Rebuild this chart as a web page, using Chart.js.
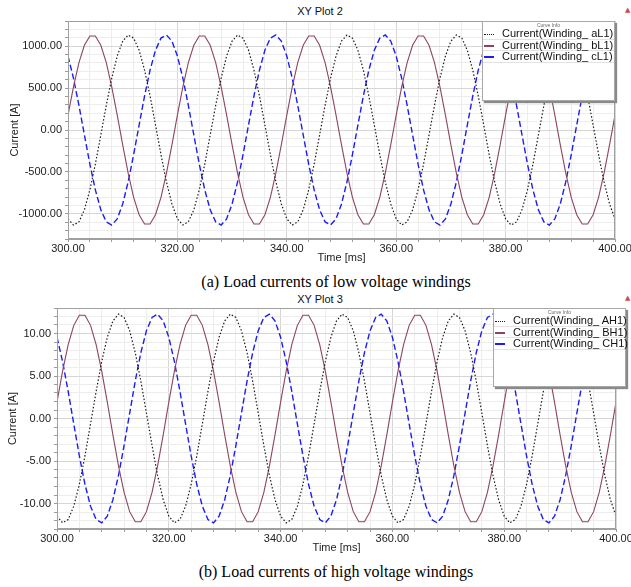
<!DOCTYPE html>
<html>
<head>
<meta charset="utf-8">
<script src="https://cdn.jsdelivr.net/npm/chart.js@4.4.1/dist/chart.umd.min.js"></script>
<style>
  html, body { margin: 0; padding: 0; background: #fff; }
  #page { position: relative; width: 631px; height: 587px; overflow: hidden; font-family: "Liberation Sans", Arial, sans-serif; }
  canvas { position: absolute; left: 0; }
  .title { position: absolute; font-size: 11px; line-height: 13px; color: #111; transform: translateX(-50%); white-space: nowrap; }
  .warn { position: absolute; font-family: "DejaVu Sans", sans-serif; font-size: 7px; line-height: 8px; color: #c0504d; }
  .caption { position: absolute; font-family: "Liberation Serif", "Times New Roman", serif; font-size: 16px; line-height: 20px; color: #000; transform: translateX(-50%); white-space: nowrap; }
  .legend { position: absolute; background: #fff; border: 1px solid #a8a8a8; box-shadow: 2px 2px 1px #8a8a8a; box-sizing: border-box; }
  .legend .head { font-size: 5px; line-height: 6px; height: 6px; text-align: center; color: #666; }
  .legend .row { height: 11.7px; line-height: 11px; font-size: 11px; border-bottom: 1px solid #e2e2e2; box-sizing: border-box; white-space: nowrap; color: #111; }
  .legend .swatch { display: inline-block; width: 10px; height: 0; margin: 0 8px 0 1px; vertical-align: middle; }
</style>
</head>
<body>
<div id="page">
  <div class="title" style="left:320px; top:5px">XY Plot 2</div>
  <div class="warn" style="left:625px; top:6px">▲</div>
  <canvas id="lv" width="631" height="267" style="top:0"></canvas>
  <div class="legend" id="lvLegend" style="left:482px; top:21px; width:133px; height:80px"></div>
  <div class="caption" style="left:336px; top:272px">(a) Load currents of low voltage windings</div>

  <div class="title" style="left:320px; top:293px">XY Plot 3</div>
  <div class="warn" style="left:625px; top:294px">▲</div>
  <canvas id="hv" width="631" height="270" style="top:287px"></canvas>
  <div class="legend" id="hvLegend" style="left:493px; top:308px; width:133px; height:79px"></div>
  <div class="caption" style="left:336px; top:562px">(b) Load currents of high voltage windings</div>
</div>
<script>
// sample times [ms]
const timeMs = [
  300, 301, 302, 303, 304, 305, 306, 307, 308, 309,
  310, 311, 312, 313, 314, 315, 316, 317, 318, 319,
  320, 321, 322, 323, 324, 325, 326, 327, 328, 329,
  330, 331, 332, 333, 334, 335, 336, 337, 338, 339,
  340, 341, 342, 343, 344, 345, 346, 347, 348, 349,
  350, 351, 352, 353, 354, 355, 356, 357, 358, 359,
  360, 361, 362, 363, 364, 365, 366, 367, 368, 369,
  370, 371, 372, 373, 374, 375, 376, 377, 378, 379,
  380, 381, 382, 383, 384, 385, 386, 387, 388, 389,
  390, 391, 392, 393, 394, 395, 396, 397, 398, 399,
  400
]

const lvNames = ["Current(Winding_ aL1)", "Current(Winding_ bL1)", "Current(Winding_ cL1)"]
const hvNames = ["Current(Winding_ AH1)", "Current(Winding_ BH1)", "Current(Winding_ CH1)"]

// low voltage windings [A]
const lvA = [
  -1060, -1133, -1096, -952, -714, -407, -59, 294, 618, 882, 1060, 1133, 1096, 952, 714, 407, 59, -294, -618, -882,
  -1060, -1133, -1096, -952, -714, -407, -59, 294, 618, 882, 1060, 1133, 1096, 952, 714, 407, 59, -294, -618, -882,
  -1060, -1133, -1096, -952, -714, -407, -59, 294, 618, 882, 1060, 1133, 1096, 952, 714, 407, 59, -294, -618, -882,
  -1060, -1133, -1096, -952, -714, -407, -59, 294, 618, 882, 1060, 1133, 1096, 952, 714, 407, 59, -294, -618, -882,
  -1060, -1133, -1096, -952, -714, -407, -59, 294, 618, 882, 1060, 1133, 1096, 952, 714, 407, 59, -294, -618, -882,
  -1060
]
const lvB = [
  178, 515, 803, 1011, 1121, 1121, 1011, 803, 515, 178, -178, -515, -803, -1011, -1121, -1121, -1011, -803, -515, -178,
  178, 515, 803, 1011, 1121, 1121, 1011, 803, 515, 178, -178, -515, -803, -1011, -1121, -1121, -1011, -803, -515, -178,
  178, 515, 803, 1011, 1121, 1121, 1011, 803, 515, 178, -178, -515, -803, -1011, -1121, -1121, -1011, -803, -515, -178,
  178, 515, 803, 1011, 1121, 1121, 1011, 803, 515, 178, -178, -515, -803, -1011, -1121, -1121, -1011, -803, -515, -178,
  178, 515, 803, 1011, 1121, 1121, 1011, 803, 515, 178, -178, -515, -803, -1011, -1121, -1121, -1011, -803, -515, -178,
  178
]
const lvC = [
  882, 618, 294, -59, -407, -714, -952, -1096, -1133, -1060, -882, -618, -294, 59, 407, 714, 952, 1096, 1133, 1060,
  882, 618, 294, -59, -407, -714, -952, -1096, -1133, -1060, -882, -618, -294, 59, 407, 714, 952, 1096, 1133, 1060,
  882, 618, 294, -59, -407, -714, -952, -1096, -1133, -1060, -882, -618, -294, 59, 407, 714, 952, 1096, 1133, 1060,
  882, 618, 294, -59, -407, -714, -952, -1096, -1133, -1060, -882, -618, -294, 59, 407, 714, 952, 1096, 1133, 1060,
  882, 618, 294, -59, -407, -714, -952, -1096, -1133, -1060, -882, -618, -294, 59, 407, 714, 952, 1096, 1133, 1060,
  882
]

// high voltage windings [A]
const hvA = [
  -11.48, -12.28, -11.88, -10.32, -7.74, -4.41, -0.64, 3.18, 6.70, 9.56, 11.48, 12.28, 11.88, 10.32, 7.74, 4.41, 0.64, -3.18, -6.70, -9.56,
  -11.48, -12.28, -11.88, -10.32, -7.74, -4.41, -0.64, 3.18, 6.70, 9.56, 11.48, 12.28, 11.88, 10.32, 7.74, 4.41, 0.64, -3.18, -6.70, -9.56,
  -11.48, -12.28, -11.88, -10.32, -7.74, -4.41, -0.64, 3.18, 6.70, 9.56, 11.48, 12.28, 11.88, 10.32, 7.74, 4.41, 0.64, -3.18, -6.70, -9.56,
  -11.48, -12.28, -11.88, -10.32, -7.74, -4.41, -0.64, 3.18, 6.70, 9.56, 11.48, 12.28, 11.88, 10.32, 7.74, 4.41, 0.64, -3.18, -6.70, -9.56,
  -11.48, -12.28, -11.88, -10.32, -7.74, -4.41, -0.64, 3.18, 6.70, 9.56, 11.48, 12.28, 11.88, 10.32, 7.74, 4.41, 0.64, -3.18, -6.70, -9.56,
  -11.48
]
const hvB = [
  1.92, 5.58, 8.70, 10.96, 12.15, 12.15, 10.96, 8.70, 5.58, 1.92, -1.92, -5.58, -8.70, -10.96, -12.15, -12.15, -10.96, -8.70, -5.58, -1.92,
  1.92, 5.58, 8.70, 10.96, 12.15, 12.15, 10.96, 8.70, 5.58, 1.92, -1.92, -5.58, -8.70, -10.96, -12.15, -12.15, -10.96, -8.70, -5.58, -1.92,
  1.92, 5.58, 8.70, 10.96, 12.15, 12.15, 10.96, 8.70, 5.58, 1.92, -1.92, -5.58, -8.70, -10.96, -12.15, -12.15, -10.96, -8.70, -5.58, -1.92,
  1.92, 5.58, 8.70, 10.96, 12.15, 12.15, 10.96, 8.70, 5.58, 1.92, -1.92, -5.58, -8.70, -10.96, -12.15, -12.15, -10.96, -8.70, -5.58, -1.92,
  1.92, 5.58, 8.70, 10.96, 12.15, 12.15, 10.96, 8.70, 5.58, 1.92, -1.92, -5.58, -8.70, -10.96, -12.15, -12.15, -10.96, -8.70, -5.58, -1.92,
  1.92
]
const hvC = [
  9.56, 6.70, 3.18, -0.64, -4.41, -7.74, -10.32, -11.88, -12.28, -11.48, -9.56, -6.70, -3.18, 0.64, 4.41, 7.74, 10.32, 11.88, 12.28, 11.48,
  9.56, 6.70, 3.18, -0.64, -4.41, -7.74, -10.32, -11.88, -12.28, -11.48, -9.56, -6.70, -3.18, 0.64, 4.41, 7.74, 10.32, 11.88, 12.28, 11.48,
  9.56, 6.70, 3.18, -0.64, -4.41, -7.74, -10.32, -11.88, -12.28, -11.48, -9.56, -6.70, -3.18, 0.64, 4.41, 7.74, 10.32, 11.88, 12.28, 11.48,
  9.56, 6.70, 3.18, -0.64, -4.41, -7.74, -10.32, -11.88, -12.28, -11.48, -9.56, -6.70, -3.18, 0.64, 4.41, 7.74, 10.32, 11.88, 12.28, 11.48,
  9.56, 6.70, 3.18, -0.64, -4.41, -7.74, -10.32, -11.88, -12.28, -11.48, -9.56, -6.70, -3.18, 0.64, 4.41, 7.74, 10.32, 11.88, 12.28, 11.48,
  9.56
]

// axis ranges / tick steps
const xTicks = { min: 300, max: 400, step: 4, major: 20 }
const lvTicks = { min: -1300, max: 1300, step: 100, major: 500 }
const hvTicks = { min: -13, max: 13, step: 1, major: 5 }

const lineStyles = [
  { color: "#1a1a1a", dash: [1.5, 2], width: 1.2, css: "1px dotted #1a1a1a" },
  { color: "#8c4560", dash: [], width: 1.1, css: "2px solid #8c4560" },
  { color: "#1c1cf5", dash: [6, 3], width: 1.4, css: "2px dashed #1c1cf5" }
]

const FONT = "'Liberation Sans', Arial, sans-serif"
const isMajor = (v, m) => Math.abs(v % m) < 1e-6

// grey frame round the plot area (top/right edges too)
const frame = {
  id: "frame",
  afterDatasetsDraw(chart) {
    const { ctx, chartArea: a } = chart
    ctx.save()
    ctx.strokeStyle = "#a0a0a0"
    ctx.lineWidth = 1
    const l = Math.round(a.left) + 0.5, t = Math.round(a.top) + 0.5
    const r = Math.round(a.right) - 0.5, b = Math.round(a.bottom) - 0.5
    ctx.strokeRect(l, t, r - l, b - t)
    ctx.restore()
  }
}

function drawPlot(id, names, series, yt, box) {
  return new Chart(document.getElementById(id), {
    type: "line",
    data: {
      datasets: series.map((vals, i) => ({
        label: names[i],
        data: vals.map((v, k) => ({ x: timeMs[k], y: v })),
        borderColor: lineStyles[i].color,
        borderDash: lineStyles[i].dash,
        borderWidth: lineStyles[i].width,
        pointRadius: 0,
        tension: 0,
        fill: false
      }))
    },
    options: {
      responsive: false,
      animation: false,
      devicePixelRatio: 1,
      layout: { padding: { top: 21, right: box.right, left: 0, bottom: 0 } },
      plugins: { legend: { display: false }, tooltip: { enabled: false } },
      scales: {
        x: {
          type: "linear",
          min: xTicks.min,
          max: xTicks.max,
          afterFit(s) { s.height = 28; s.paddingLeft = 0; s.paddingRight = 0 },
          ticks: {
            stepSize: xTicks.step,
            autoSkip: false,
            maxRotation: 0,
            minRotation: 0,
            padding: 0,
            color: "#222",
            font: { family: FONT, size: 11 },
            callback: (v) => isMajor(v, xTicks.major) ? v.toFixed(2) : ""
          },
          grid: {
            color: (c) => c.tick && isMajor(c.tick.value, xTicks.major) ? "#d6d6d6" : "#ededed",
            tickColor: "#9a9a9a",
            tickLength: 3
          },
          border: { color: "#a0a0a0" },
          title: {
            display: true,
            text: "Time [ms]",
            color: "#222",
            font: { family: FONT, size: 11 },
            padding: { top: 0, bottom: 2 }
          }
        },
        y: {
          min: yt.min,
          max: yt.max,
          afterFit(s) { s.width = box.yWidth; s.paddingTop = 0; s.paddingBottom = 0 },
          ticks: {
            stepSize: yt.step,
            autoSkip: false,
            padding: 3,
            color: "#222",
            font: { family: FONT, size: 11 },
            callback: (v) => isMajor(v, yt.major) ? v.toFixed(2) : ""
          },
          grid: {
            color: (c) => c.tick && isMajor(c.tick.value, yt.major) ? "#d6d6d6" : "#ededed",
            tickColor: "#9a9a9a",
            tickLength: 3
          },
          border: { color: "#a0a0a0" },
          title: {
            display: true,
            text: "Current [A]",
            color: "#222",
            font: { family: FONT, size: 11 },
            padding: { top: box.titlePad, bottom: 0 }
          }
        }
      }
    },
    plugins: [frame]
  })
}

function buildLegend(id, names) {
  document.getElementById(id).innerHTML =
    '<div class="head">Curve Info</div>' +
    names.map((n, i) =>
      `<div class="row"><span class="swatch" style="border-top:${lineStyles[i].css}"></span>${n}</div>`
    ).join("")
}

drawPlot("lv", lvNames, [lvA, lvB, lvC], lvTicks, { yWidth: 68, right: 16, titlePad: 8 })
drawPlot("hv", hvNames, [hvA, hvB, hvC], hvTicks, { yWidth: 57, right: 15, titlePad: 6 })
buildLegend("lvLegend", lvNames)
buildLegend("hvLegend", hvNames)
</script>
</body>
</html>
